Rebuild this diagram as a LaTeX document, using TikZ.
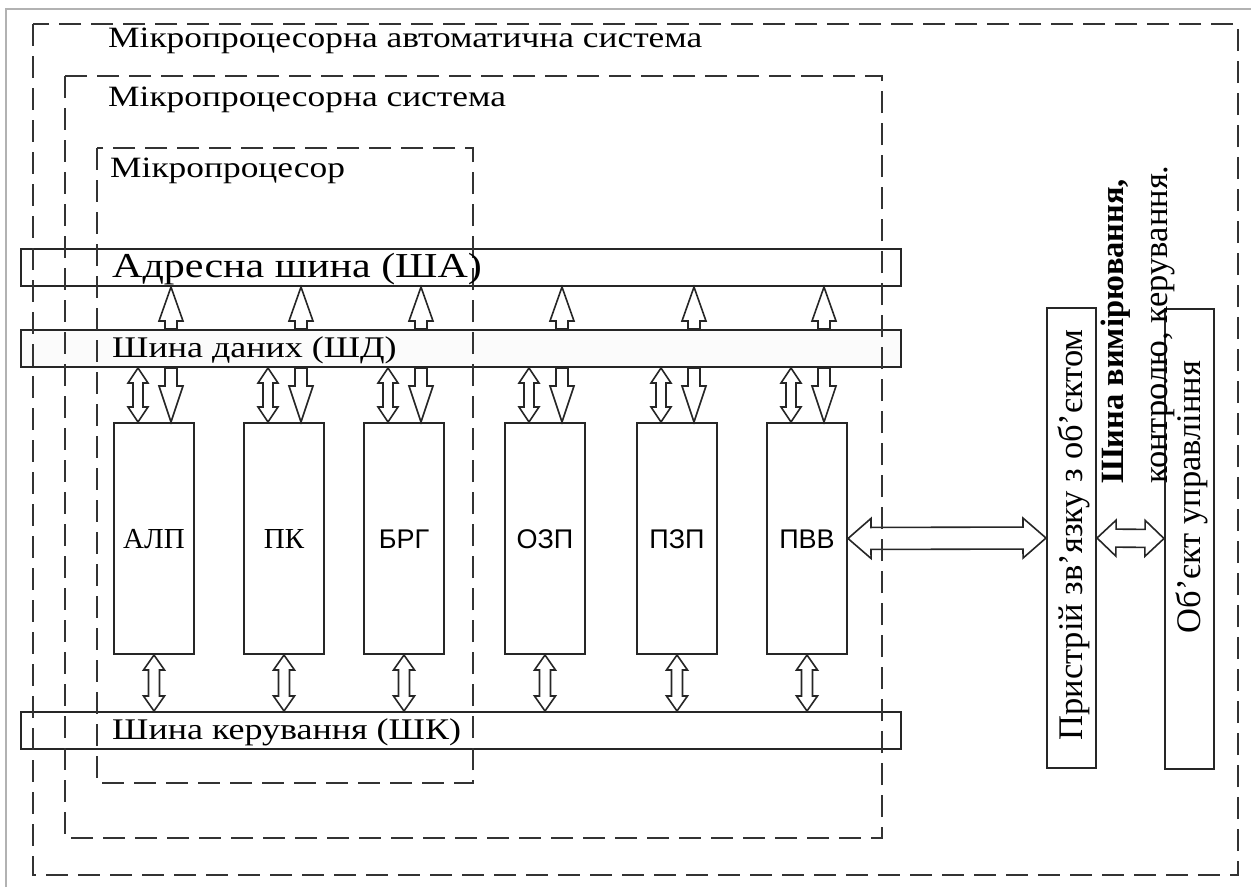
\documentclass[tikz,border=0pt]{standalone}
\usepackage{fontspec}
\setmainfont{Liberation Serif}
\setsansfont{Liberation Sans}
\newfontfamily\hfont{Liberation Serif}[FakeStretch=1.2]
\usetikzlibrary{calc}
\newcommand{\sarrow}[5]{%
 \draw[arr] let \p1=(#1), \p2=(#2), \n1={veclen(\x2-\x1,\y2-\y1)}, \n2={(\x2-\x1)/\n1}, \n3={(\y2-\y1)/\n1} in
   ({\x1-#5*\n3},{\y1+#5*\n2}) -- ({\x2-#3*\n2-#5*\n3},{\y2-#3*\n3+#5*\n2}) -- ({\x2-#3*\n2-#4*\n3},{\y2-#3*\n3+#4*\n2}) -- (\p2)
   -- ({\x2-#3*\n2+#4*\n3},{\y2-#3*\n3-#4*\n2}) -- ({\x2-#3*\n2+#5*\n3},{\y2-#3*\n3-#5*\n2}) -- ({\x1+#5*\n3},{\y1-#5*\n2}) -- cycle;}
\newcommand{\darrow}[5]{%
 \draw[arr] let \p1=(#1), \p2=(#2), \n1={veclen(\x2-\x1,\y2-\y1)}, \n2={(\x2-\x1)/\n1}, \n3={(\y2-\y1)/\n1} in
   (\p1) -- ({\x1+#3*\n2-#4*\n3},{\y1+#3*\n3+#4*\n2}) -- ({\x1+#3*\n2-#5*\n3},{\y1+#3*\n3+#5*\n2})
   -- ({\x2-#3*\n2-#5*\n3},{\y2-#3*\n3+#5*\n2}) -- ({\x2-#3*\n2-#4*\n3},{\y2-#3*\n3+#4*\n2}) -- (\p2)
   -- ({\x2-#3*\n2+#4*\n3},{\y2-#3*\n3-#4*\n2}) -- ({\x2-#3*\n2+#5*\n3},{\y2-#3*\n3-#5*\n2})
   -- ({\x1+#3*\n2+#5*\n3},{\y1+#3*\n3-#5*\n2}) -- ({\x1+#3*\n2+#4*\n3},{\y1+#3*\n3-#4*\n2}) -- cycle;}
\begin{document}
\begin{tikzpicture}[x=1pt,y=-1pt,
  lbl/.style={anchor=base west,inner sep=0pt,font=\hfont\fontsize{29.5}{34}\selectfont},
  buslbl/.style={anchor=base west,inner sep=0pt,font=\hfont\fontsize{30}{36}\selectfont},
  frame/.style={draw=black!80,line width=2pt,dash pattern=on 22pt off 10pt},
  bus/.style={draw=black!85,line width=2pt,minimum width=880pt,minimum height=37pt,anchor=north west,inner sep=0pt},
  blk/.style={draw=black!85,line width=2pt,minimum width=80pt,minimum height=231pt,inner sep=0pt,text height=20pt,text depth=0pt},
  serlbl/.style={font=\fontsize{29}{34}\selectfont},
  sanslbl/.style={font=\sffamily\fontsize{27}{32}\selectfont},
  side/.style={draw=black!85,line width=2pt,minimum width=49pt,minimum height=460pt,inner sep=0pt},
  vtxt/.style={rotate=90,inner sep=0pt,font=\fontsize{34.5}{38}\selectfont},
  arr/.style={draw=black!85,line width=1.6pt,line join=miter}
]
\useasboundingbox (0,0) rectangle (1251,887);
\fill[white] (0,0) rectangle (1251,887);
\draw[black!30,line width=1.5pt] (6,887) -- (6,9) -- (1251,9);

% buses
\node[bus] (AB) at (20,248) {};
\node[bus,fill=black!1.5] (DB) at (20,329) {};
\node[bus] (CB) at (20,711) {};

% blocks
\node[blk,serlbl] (b1) at (154,538.5) {АЛП};
\node[blk,serlbl] (b2) at (284,538.5) {ПК};
\node[blk,sanslbl] (b3) at (404,538.5) {БРГ};
\node[blk,sanslbl] (b4) at (545,538.5) {ОЗП};
\node[blk,sanslbl] (b5) at (677,538.5) {ПЗП};
\node[blk,sanslbl] (b6) at (807,538.5) {ПВВ};

\foreach \i in {1,...,6}{
  \coordinate (s\i) at ([xshift=17pt]b\i.north);
  \coordinate (d\i) at ([xshift=-16pt]b\i.north);
}
\foreach \i in {1,...,6}{
  \sarrow{s\i |- DB.north}{s\i |- AB.south}{34}{12}{6}
  \sarrow{s\i |- DB.south}{s\i}{36}{12}{6}
  \darrow{d\i |- DB.south}{d\i}{15}{10}{5}
  \darrow{b\i.south}{b\i.south |- CB.north}{15}{10.5}{5.5}
}

% side boxes
\node[side] (dev) at (1071.5,538) {};
\node[side] (obj) at (1189.5,538.5) {};
\node[vtxt] (devtxt) at (1074,535) {Пристрій зв’язку з об’єктом};
\node[vtxt] (objtxt) at (1192,497) {Об’єкт управління};
\node[rotate=90,anchor=base west,inner sep=0pt,font=\bfseries\fontsize{32.5}{36}\selectfont] (bus1) at (1123,484) {Шина вимірювання,};
\node[rotate=90,anchor=base west,inner sep=0pt,font=\fontsize{34.5}{38}\selectfont] (bus2) at (1167,484) {контролю, керування.};

\darrow{b6.east}{dev.west}{23}{20}{11}
\darrow{dev.east}{obj.west}{19}{18}{9}

% dashed frames
\draw[frame] (33,24) rectangle (1238,875);
\draw[frame] (65,76) rectangle (882,838);
\draw[frame] (97,148) rectangle (473,783);

% labels
\node[lbl] (t1) at (108,47) {Мікропроцесорна автоматична система};
\node[lbl] (t2) at (108,106) {Мікропроцесорна система};
\node[lbl] (t3) at (110,177) {Мікропроцесор};
\node[buslbl,font=\hfont\fontsize{35}{40}\selectfont] (l1) at (112,277) {Адресна шина (ША)};
\node[buslbl] (l2) at (112,357) {Шина даних (ШД)};
\node[buslbl] (l3) at (112,739) {Шина керування (ШК)};
\end{tikzpicture}
\end{document}
